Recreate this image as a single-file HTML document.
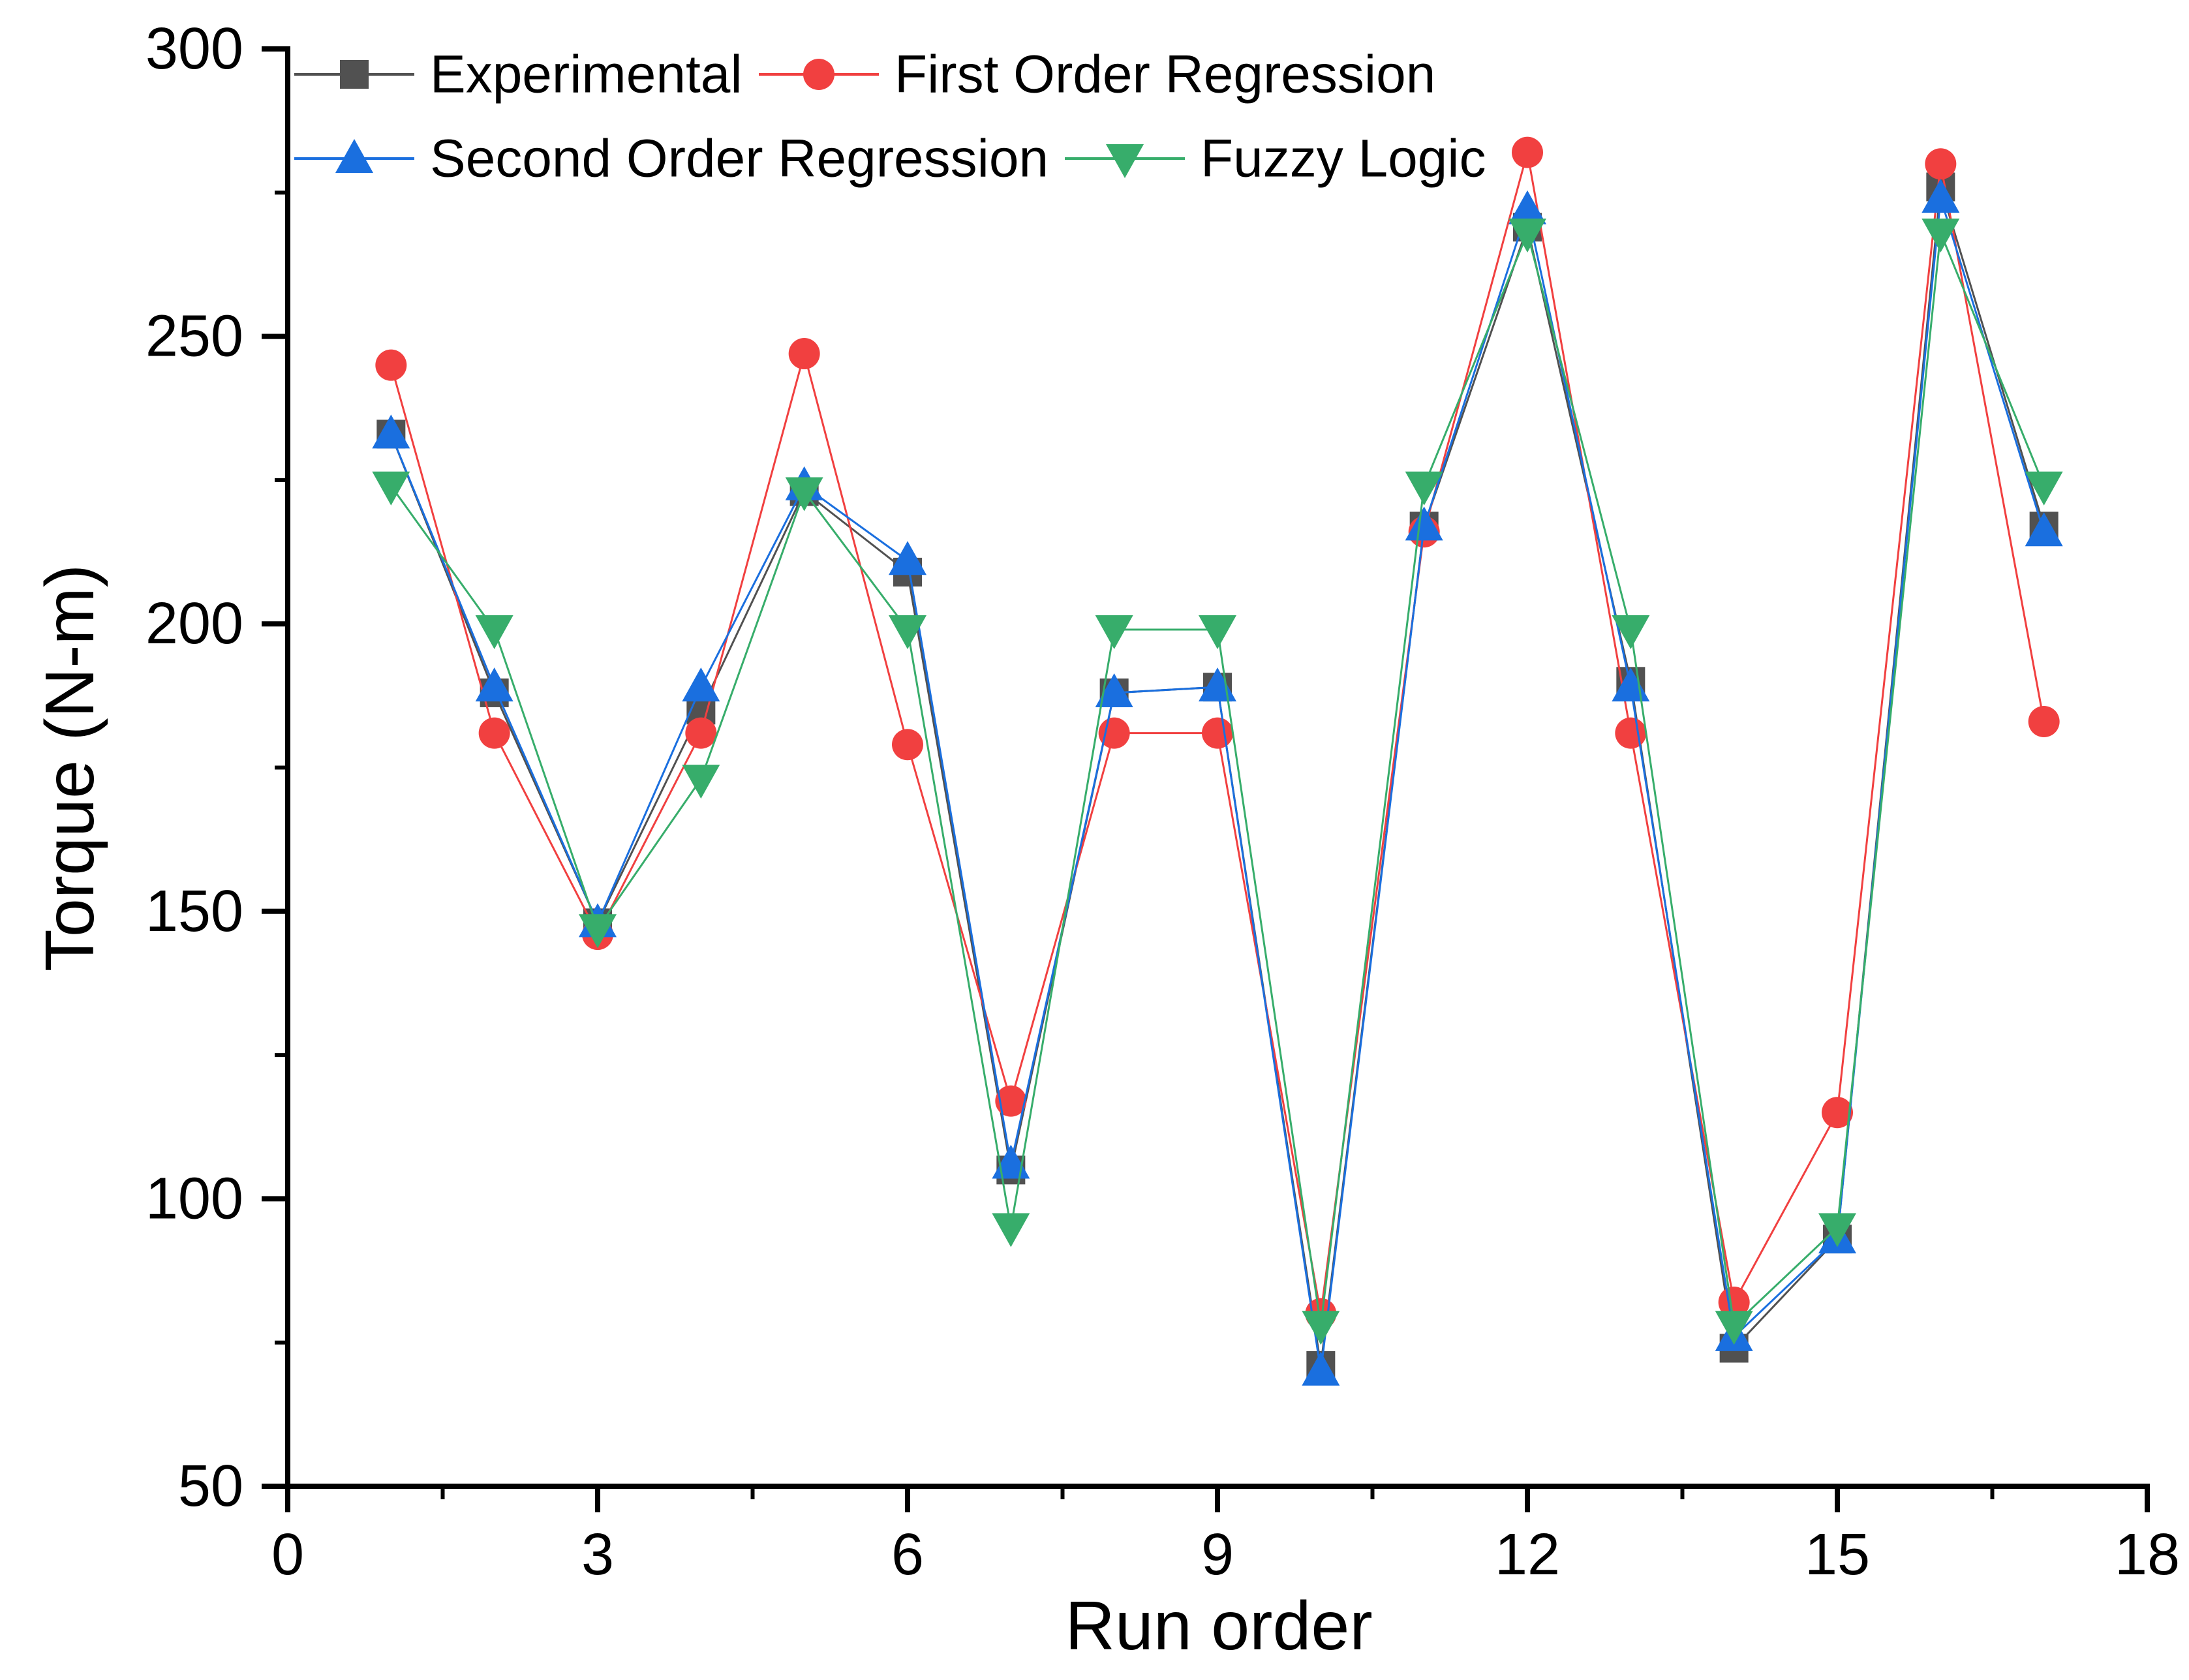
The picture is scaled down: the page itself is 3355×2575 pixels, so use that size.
<!DOCTYPE html>
<html><head><meta charset="utf-8"><style>
html,body{margin:0;padding:0;background:#fff;}
svg{display:block;font-family:"Liberation Sans",Arial,sans-serif;}
</style></head><body>
<svg id="chart" width="3355" height="2575" viewBox="0 0 3355 2575">
<rect width="3355" height="2575" fill="#fff"/>
<g id="grid"></g>
<g id="series"></g>
<g id="axes"></g>
<g id="legend"></g>
</svg>
<script>
const runs = [1,2,3,4,5,6,7,8,9,10,11,12,13,14,15,16,17];
const experimental = [233,188,148,185,223,209,105,188,189,71,217,269,190,74,93,276,217];
const firstOrder = [245,181,146,181,247,179,117,181,181,80,216,282,181,82,115,280,183];
const secondOrder = [233,189,148,189,224,211,106,188,189,70,217,272,189,76,93,274,216];
const fuzzy = [224,199,147,173,223,199,95,199,199,78,224,268,199,78,95,268,224];
const xTicks = [0,3,6,9,12,15,18];
const yTicks = [50,100,150,200,250,300];

const NS = "http://www.w3.org/2000/svg";
const X0=441, X1=3291, Y0=2278, Y1=75;
const xs = v => X0 + (v-0)/(18-0)*(X1-X0);
const ys = v => Y0 - (v-50)/(300-50)*(Y0-Y1);
function mk(tag, attrs, parent){const e=document.createElementNS(NS,tag);for(const k in attrs)e.setAttribute(k,attrs[k]);parent.appendChild(e);return e;}
const series = document.getElementById('series');
const axes = document.getElementById('axes');
const legend = document.getElementById('legend');

function marker(type, cx, cy, color, parent){
  let e;
  if(type==='square'){e=mk('rect',{x:cx-22,y:cy-22,width:44,height:44,fill:color},parent);}
  else if(type==='circle'){e=mk('circle',{cx:cx,cy:cy,r:24,fill:color},parent);}
  else if(type==='up'){e=mk('polygon',{points:`${cx},${cy-30} ${cx-29},${cy+22} ${cx+29},${cy+22}`,fill:color},parent);}
  else {e=mk('polygon',{points:`${cx},${cy+30} ${cx-29},${cy-22} ${cx+29},${cy-22}`,fill:color},parent);}
  return e;
}
const defs = [
  {name:'experimental', data:experimental, color:'#515151', m:'square'},
  {name:'first-order-regression', data:firstOrder, color:'#F14040', m:'circle'},
  {name:'second-order-regression', data:secondOrder, color:'#1A6FDF', m:'up'},
  {name:'fuzzy-logic', data:fuzzy, color:'#37AD6B', m:'down'}
];
defs.forEach(d=>{
  const g = mk('g',{},series);
  
  
  const pts = d.data.map((v,i)=>xs(runs[i])+','+ys(v)).join(' ');
  const pl = mk('polyline',{points:pts,fill:'none',stroke:d.color,'stroke-width':3},g);
  
  
  d.data.forEach((v,i)=>{
    const m = marker(d.m, xs(runs[i]), ys(v), d.color, g);
    
    
  });
});

// axes
const ax = mk('line',{x1:X0,y1:Y1-4,x2:X0,y2:Y0+4,stroke:'#000','stroke-width':8},axes);


const bx = mk('line',{x1:X0-40,y1:Y0,x2:X1+4,y2:Y0,stroke:'#000','stroke-width':8},axes);


yTicks.forEach(v=>{
  mk('line',{x1:X0-40,y1:ys(v),x2:X0,y2:ys(v),stroke:'#000','stroke-width':8},axes);
  const t = mk('text',{x:373,y:ys(v),'text-anchor':'end','dominant-baseline':'central','font-size':90},axes);
  t.textContent = v;
  
  
});
for(let v=75; v<300; v+=50){ mk('line',{x1:X0-20,y1:ys(v),x2:X0,y2:ys(v),stroke:'#000','stroke-width':6},axes); }
xTicks.forEach(v=>{
  mk('line',{x1:xs(v),y1:Y0,x2:xs(v),y2:Y0+40,stroke:'#000','stroke-width':8},axes);
  const t = mk('text',{x:xs(v),y:2383,'text-anchor':'middle','dominant-baseline':'central','font-size':90},axes);
  t.textContent = v;
  
  
});
for(let v=1.5; v<18; v+=3){ mk('line',{x1:xs(v),y1:Y0,x2:xs(v),y2:Y0+20,stroke:'#000','stroke-width':6},axes); }
const xt = mk('text',{x:1868,y:2492,'text-anchor':'middle','dominant-baseline':'central','font-size':106},axes);
xt.textContent='Run order';


const yt = mk('text',{x:0,y:0,'text-anchor':'middle','dominant-baseline':'central','font-size':106,transform:'translate(107,1177) rotate(-90)'},axes);
yt.textContent='Torque (N-m)';



// legend
const leg = [
  {label:'Experimental', d:defs[0], lx:451, y:114},
  {label:'First Order Regression', d:defs[1], lx:1163, y:114},
  {label:'Second Order Regression', d:defs[2], lx:451, y:243},
  {label:'Fuzzy Logic', d:defs[3], lx:1632, y:243}
];
leg.forEach(L=>{
  const g = mk('g',{},legend);
  
  
  mk('line',{x1:L.lx,y1:L.y,x2:L.lx+184,y2:L.y,stroke:L.d.color,'stroke-width':4},g);
  marker(L.d.m, L.lx+92, L.y, L.d.color, g);
  const t = mk('text',{x:L.lx+208,y:L.y,'dominant-baseline':'central','font-size':82},g);
  t.textContent = L.label;
});
</script>
</body></html>
